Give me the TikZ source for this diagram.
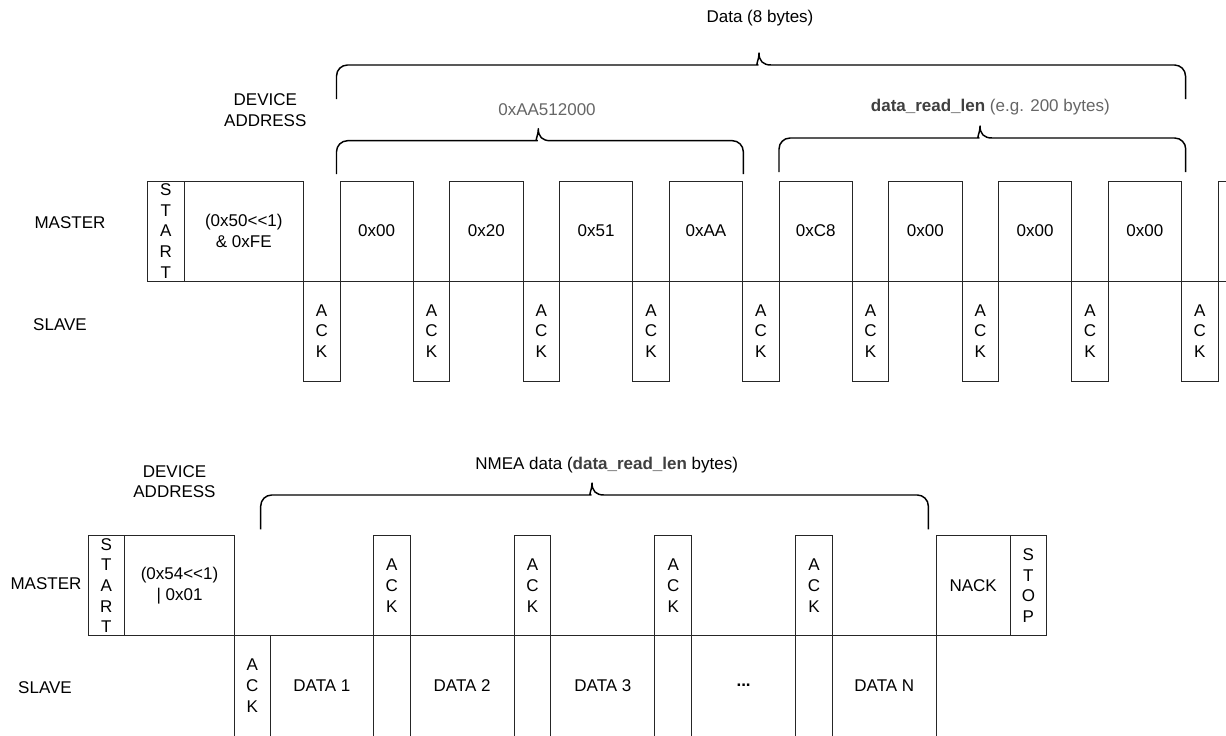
\documentclass[tikz,border=0pt]{standalone}
\usepackage{fontspec}
\setmainfont{Liberation Sans}
\newcommand{\curlybr}[6]{%
  \draw[brc] (#1,#4) [rounded corners=8.25pt] |- ({#5-12},#3) [sharp corners]
    .. controls ({#5-4},#3) and (#5,{#3-4}) .. (#5,#6)
    .. controls (#5,{#3-4}) and ({#5+4},#3) .. ({#5+12},#3)
    [rounded corners=8.25pt] -| (#2,#4);}
\tikzset{
  lbl/.style={font=\fontsize{12.75}{15.5}\selectfont, align=center, inner sep=0pt, text=black},
  cell/.style={draw=black!85, line width=0.75pt, inner sep=0pt, outer sep=0pt,
    anchor=north west, align=center, font=\fontsize{12.75}{15.5}\selectfont, minimum height=75pt},
  cutcell/.style={cell, minimum height=84pt, text depth=9pt},
  wpx/.style={minimum width=#1*0.75pt},
  brc/.style={draw=black, line width=1.1pt, line join=round},
}
\begin{document}
\begin{tikzpicture}[x=0.75pt,y=-0.75pt]
\useasboundingbox[fill=white] (0,0) rectangle (1226,735);

% ---------------- top transaction ----------------
\node[lbl] (tmaster) at (70,222.7) {MASTER};
\node[lbl] (tslave) at (60,325) {SLAVE};
\node[lbl] (tdev) at (265.3,110.3) {DEVICE\\ADDRESS};

\node[cell, wpx=37] (tstart) at (147.3,181) {S\\T\\A\\R\\T};
\node[cell, wpx=119] (taddr) at (184.3,181) {(0x50<\kern0pt<1)\\\& 0xFE};
\foreach \v [count=\i from 0] in {0x00,0x20,0x51,0xAA,0xC8,0x00,0x00,0x00}
  \node[cell, wpx=73.3] (tb\i) at ({340+109.75*\i},181) {\v};
\node[cell, wpx=73.3] (tb8) at (1218,181) {};
\node[cell, wpx=36.7] (tack0) at (303.3,281) {A\\C\\K};
\foreach \i in {1,...,8}
  \node[cell, wpx=36.45] (tack\i) at ({413.3+109.75*(\i-1)},281) {A\\C\\K};

\node[lbl] (tdata) at (760,18.3) {Data (8 bytes)};
\node[lbl, text=black!60] (tval) at (547,109.3) {0xAA512000};
\node[lbl] (tlen) at (990.3,107.3) {\textcolor{black!75}{\textbf{data\_read\_len}} \textcolor{black!60}{(e.g. 200 bytes)}};

\curlybr{336.5}{1185.5}{65}{99}{759}{53}
\curlybr{336.5}{743.3}{140.7}{174}{538.3}{128.7}
\curlybr{779}{1185.7}{138}{172}{980}{126}

% ---------------- bottom transaction ----------------
\node[lbl] (bmaster) at (46,583.3) {MASTER};
\node[lbl] (bslave) at (45,687.3) {SLAVE};
\node[lbl] (bdev) at (174.5,481.7) {DEVICE\\ADDRESS};

\node[cell, wpx=36.7] (bstart) at (88,535.7) {S\\T\\A\\R\\T};
\node[cell, wpx=109.6] (baddr) at (124.7,535.7) {(0x54<\kern0pt<1)\\| 0x01};
\node[cutcell, wpx=36] (bsack) at (234.3,635.7) {A\\C\\K};
\node[cutcell, wpx=103.2] (bd1) at (270.3,635.7) {DATA 1};
\foreach \i in {0,...,3}
  \node[cell, wpx=36.7] (bmack\i) at ({373.5+140.7*\i},535.7) {A\\C\\K};
\node[cutcell, wpx=104] (bd2) at (410.2,635.7) {DATA 2};
\node[cutcell, wpx=104] (bd3) at (550.9,635.7) {DATA 3};
\node[cutcell, wpx=104] (bdots) at (691.6,635.7) {\textbf{...}};
\node[cutcell, wpx=104] (bdn) at (832.3,635.7) {DATA N};
\node[cell, wpx=73.7] (bnack) at (936.3,535.7) {NACK};
\node[cell, wpx=36.7] (bstop) at (1010,535.7) {S\\T\\O\\P};

\node[lbl] (bnmea) at (606.7,465) {NMEA data (\textcolor{black!75}{\textbf{data\_read\_len}} bytes)};
\curlybr{260.7}{928.3}{495}{529.3}{592}{483}
\end{tikzpicture}
\end{document}
